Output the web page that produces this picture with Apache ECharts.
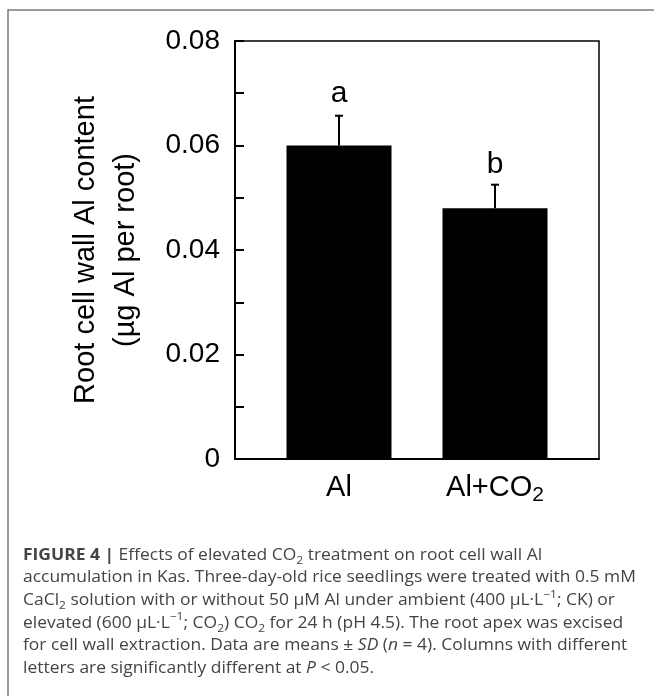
<!DOCTYPE html>
<html>
<head>
<meta charset="utf-8">
<script src="https://cdn.jsdelivr.net/npm/echarts@6.0.0/dist/echarts.min.js"></script>
<style>
  html, body { margin: 0; padding: 0; background: #fff; }
  #chart { width: 654px; height: 696px; }
</style>
</head>
<body>
<div id="chart"></div>
<script>
// data
const categories = ['Al', 'Al+CO{sub|2}']
const positions = [1, 2]
const means = [0.060, 0.048]
const errors = [0.0057, 0.0045]
const letters = ['a', 'b']
const letterY = [0.0700, 0.0563]
const yTicks = [0, 0.02, 0.04, 0.06, 0.08]

const captionLines = [
  '{b|FIGURE 4 |} Effects of elevated CO{sub|2} treatment on root cell wall Al',
  'accumulation in Kas. Three-day-old rice seedlings were treated with 0.5 mM',
  'CaCl{sub|2} solution with or without 50 μM Al under ambient (400 μL·L{sup|−1}; CK) or',
  'elevated (600 μL·L{sup|−1}; CO{sub|2}) CO{sub|2} for 24 h (pH 4.5). The root apex was excised',
  'for cell wall extraction. Data are means ± {i|SD} ({i|n} = 4). Columns with different',
  'letters are significantly different at {i|P} < 0.05.'
]

const FONT = 'Arial'
const CAP_FONT = 'Open Sans'

const chart = echarts.init(document.getElementById('chart'))
const capStyle = { fontFamily: CAP_FONT, fontSize: 16, fill: '#444' }

const option = {
  backgroundColor: '#fff',
  animation: false,
  textStyle: { fontFamily: FONT },
  grid: { left: 235, right: 55, top: 41, bottom: 237, show: true, borderColor: '#000', borderWidth: 1.5 },
  xAxis: {
    type: 'value', min: 1 / 3, max: 8 / 3,
    axisLine: { lineStyle: { color: '#000', width: 2 } },
    axisTick: { show: false },
    splitLine: { show: false },
    axisLabel: {
      customValues: positions,
      formatter: v => categories[positions.indexOf(v)],
      color: '#000', fontFamily: FONT, fontSize: 29, lineHeight: 36, margin: 11,
      rich: {
        sub: { fontFamily: FONT, fontSize: 21, lineHeight: 14, verticalAlign: 'bottom', color: '#000' }
      }
    }
  },
  yAxis: {
    type: 'value', min: 0, max: 0.08, interval: 0.02,
    name: 'Root cell wall Al content\n(µg Al per root)',
    nameLocation: 'middle', nameGap: 89,
    nameTextStyle: { color: '#000', fontFamily: FONT, fontSize: 29, lineHeight: 40 },
    axisLine: { show: true, lineStyle: { color: '#000', width: 2 } },
    axisTick: { show: true, inside: true, length: 9, lineStyle: { color: '#000', width: 2 } },
    minorTick: { show: true, splitNumber: 2, length: 9, lineStyle: { color: '#000', width: 2 } },
    splitLine: { show: false },
    axisLabel: {
      customValues: yTicks,
      formatter: v => v === 0 ? '0' : v.toFixed(2),
      color: '#000', fontFamily: FONT, fontSize: 28, margin: 15
    }
  },
  series: [
    {
      type: 'bar',
      data: positions.map((p, i) => [p, means[i]]),
      barWidth: 105,
      itemStyle: { color: '#000' },
      z: 2
    },
    {
      type: 'custom',
      data: positions.map((p, i) => [p, means[i], errors[i], letterY[i]]),
      z: 3,
      renderItem: (params, api) => {
        const x = api.value(0), m = api.value(1), e = api.value(2)
        const p0 = api.coord([x, m])
        const p1 = api.coord([x, m + e])
        const pl = api.coord([x, api.value(3)])
        const cap = 4
        return {
          type: 'group',
          children: [
            { type: 'line', shape: { x1: p0[0], y1: p0[1], x2: p1[0], y2: p1[1] }, style: { stroke: '#000', lineWidth: 2 } },
            { type: 'line', shape: { x1: p1[0] - cap, y1: p1[1], x2: p1[0] + cap, y2: p1[1] }, style: { stroke: '#000', lineWidth: 2 } },
            { type: 'text', x: pl[0], y: pl[1], style: { text: letters[params.dataIndex], fontFamily: FONT, fontSize: 30, fill: '#000', align: 'center', verticalAlign: 'middle' } }
          ]
        }
      }
    }
  ],
  graphic: [
    { type: 'rect', shape: { x: 8, y: 10, width: 700, height: 720 }, style: { fill: null, stroke: '#7a7a7a', lineWidth: 1.5 }, z: -1 },
    {
      type: 'text', x: 23, y: 544, scaleX: 1.09,
      style: {
        text: captionLines.join('\n'),
        ...capStyle,
        lineHeight: 22.6,
        rich: {
          b: { fontFamily: CAP_FONT, fontSize: 16, fontWeight: 'bold', color: '#1a1a1a', lineHeight: 22.6 },
          i: { fontFamily: CAP_FONT, fontSize: 16, fontStyle: 'italic', color: '#444', lineHeight: 22.6 },
          sub: { fontFamily: CAP_FONT, fontSize: 11, color: '#444', lineHeight: 13, verticalAlign: 'bottom' },
          sup: { fontFamily: CAP_FONT, fontSize: 11, color: '#444', lineHeight: 12, verticalAlign: 'top' }
        }
      }
    }
  ]
}

chart.setOption(option)
</script>
</body>
</html>
